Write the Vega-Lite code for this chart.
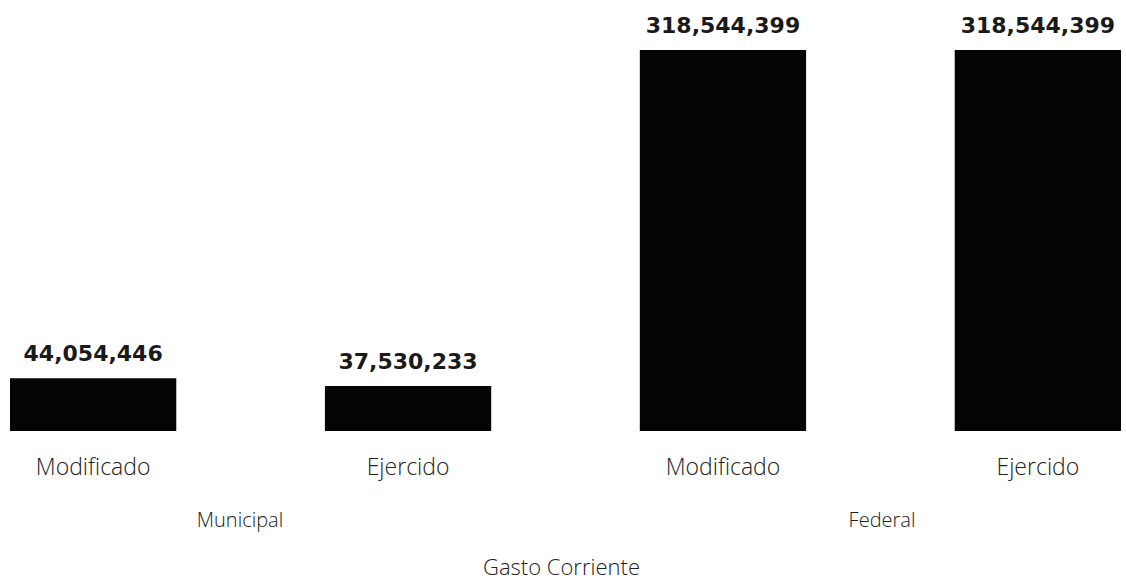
{
  "$schema": "https://vega.github.io/schema/vega-lite/v6.json",
  "width": 1126,
  "height": 431,
  "autosize": {"type": "none"},
  "padding": {"left": 0, "top": 0, "right": 0, "bottom": 152},
  "background": "white",
  "config": {"view": {"stroke": null}},
  "data": {
    "values": [
      {"grupo": "Municipal", "tipo": "Modificado", "key": "Municipal|Modificado", "valor": 44054446},
      {"grupo": "Municipal", "tipo": "Ejercido", "key": "Municipal|Ejercido", "valor": 37530233},
      {"grupo": "Federal", "tipo": "Modificado", "key": "Federal|Modificado", "valor": 318544399},
      {"grupo": "Federal", "tipo": "Ejercido", "key": "Federal|Ejercido", "valor": 318544399}
    ]
  },
  "layer": [
    {
      "encoding": {
        "x": {
          "field": "key", "type": "nominal", "sort": null,
          "scale": {"type": "band", "range": [10, 1121], "paddingInner": 0.472, "paddingOuter": 0},
          "axis": {
            "orient": "bottom",
            "title": null,
            "domain": false,
            "ticks": false,
            "tickSize": 0,
            "labelAngle": 0,
            "labelPadding": 25,
            "labelFont": "Open Sans",
            "labelFontWeight": 300,
            "labelFontSize": 23,
            "labelColor": "#222222",
            "labelExpr": "split(datum.label, '|')[1]"
          }
        },
        "y": {
          "field": "valor", "type": "quantitative",
          "scale": {"domain": [0, 360350000], "nice": false, "zero": true},
          "axis": null
        }
      },
      "layer": [
        {"mark": {"type": "bar", "color": "#050505"}},
        {
          "mark": {"type": "text", "dy": -17, "baseline": "alphabetic", "font": "DejaVu Sans", "fontWeight": "bold", "fontSize": 22, "color": "#1a1a1a"},
          "encoding": {
            "x": {"field": "key", "type": "nominal", "sort": null, "bandPosition": 0.5},
            "text": {"field": "valor", "type": "quantitative", "format": ","}
          }
        }
      ]
    },
    {
      "mark": {"type": "text", "opacity": 0},
      "encoding": {
        "x": {
          "field": "grupo", "type": "nominal", "sort": null,
          "scale": {"type": "band", "range": [-81, 1203], "paddingInner": 0, "paddingOuter": 0},
          "axis": {
            "orient": "bottom",
            "title": "Gasto Corriente",
            "titleFont": "Open Sans",
            "titleFontWeight": 300,
            "titleFontSize": 22,
            "titleColor": "#222222",
            "titlePadding": 27,
            "domain": false,
            "ticks": false,
            "tickSize": 0,
            "labelAngle": 0,
            "labelPadding": 79,
            "labelFont": "Open Sans",
            "labelFontWeight": 300,
            "labelFontSize": 20,
            "labelColor": "#222222"
          }
        },
        "text": {"field": "grupo"}
      }
    }
  ],
  "resolve": {"scale": {"x": "independent"}, "axis": {"x": "independent"}}
}
